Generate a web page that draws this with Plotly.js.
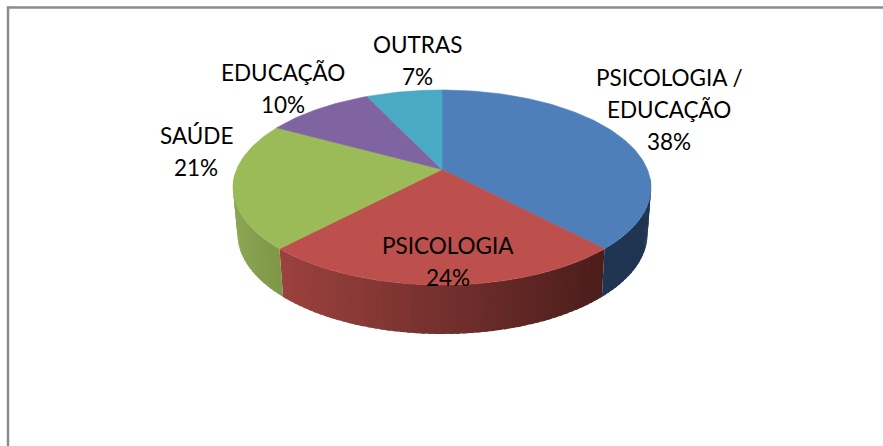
<!DOCTYPE html>
<html><head><meta charset="utf-8">
<script src="https://cdn.plot.ly/plotly-3.0.1.min.js"></script>
<style>html,body{margin:0;padding:0;background:#fff}#c{width:883px;height:446px}</style>
</head><body><div id="c"></div>
<script>
const categories = ["PSICOLOGIA / EDUCAÇÃO","PSICOLOGIA","SAÚDE","EDUCAÇÃO","OUTRAS"];
const values = [38,24,21,10,7];
const topColors = ["#4f7fbb","#bd4f4c","#9bbb59","#8064a2","#4aa9c5"];
const labelLines = [["PSICOLOGIA /","EDUCAÇÃO","38%"],["PSICOLOGIA","24%"],["SAÚDE","21%"],["EDUCAÇÃO","10%"],["OUTRAS","7%"]];
const labelX = [669,448,196,283,417];
const labelY = [77,245,135,72,44];
const lineStep = 32;
const wallStops = [[[0,"#1f3552"],[1,"#1f3552"]],[[0,"#9c413e"],[0.5,"#74302e"],[1,"#4b1d1b"]],[[0,"#8aa552"],[1,"#7d9748"]],[[0,"#5f4b7a"],[1,"#5f4b7a"]],[[0,"#387f93"],[1,"#387f93"]]];

// projected disc: top ellipse, bottom rim ellipse, perspective-shifted centre
const T={cx:442,cy:187.5,rx:209,ry:97.5}, B={cx:442.5,cy:234,rx:205,ry:100}, d=-0.185;
const total=values.reduce((a,b)=>a+b,0);
function rim(E,f){ // f = fraction of the way round, clockwise from 12 o'clock
  const a=2*Math.PI*f,u=Math.sin(a),v=-Math.cos(a),k=1+d*v;
  return [E.cx+E.rx*u*Math.sqrt(1-d*d)/k, E.cy+E.ry*(v+d)/k];
}
const apex=[T.cx,T.cy+T.ry*d];
function hex(c){return [1,3,5].map(i=>parseInt(c.substr(i,2),16));}
function mix(stops,t){
  let i=0; while(i<stops.length-2&&t>stops[i+1][0]) i++;
  const w=(t-stops[i][0])/(stops[i+1][0]-stops[i][0]),A=hex(stops[i][1]),C=hex(stops[i+1][1]);
  return "rgb("+A.map((x,j)=>Math.round(x+(C[j]-x)*w)).join(",")+")";
}
const traces=[];
function poly(xs,ys,color,lw){
  traces.push({type:"scatter",mode:"lines",x:xs,y:ys,fill:"toself",fillcolor:color,line:{color:color,width:lw},hoverinfo:"skip",showlegend:false});
}
let cum=0;
const slices=values.map(v=>{const s=[cum/total,(cum+v)/total];cum+=v;return s;});
const wallFrom=0.262, wallTo=0.745;
// wall strips overlap one another so no seams show between them
slices.forEach((s,i)=>{
  const a=Math.max(s[0],wallFrom),b=Math.min(s[1],wallTo);
  if(b<=a) return;
  const n=Math.max(2,Math.ceil((b-a)*220));
  const xa=rim(T,a)[0],xb=rim(T,b)[0],lo=Math.min(xa,xb),hi=Math.max(xa,xb);
  for(let k=0;k<n;k++){
    const f0=a+(b-a)*k/n,f1=Math.min(b,a+(b-a)*(k+1.6)/n);
    const p=[rim(T,f0),rim(T,f1),rim(B,f1),rim(B,f0)];
    const t=(rim(T,a+(b-a)*(k+.5)/n)[0]-lo)/(hi-lo);
    poly(p.map(q=>q[0]).concat(p[0][0]),p.map(q=>q[1]).concat(p[0][1]),mix(wallStops[i],t),0);
  }
});
slices.forEach((s,i)=>{
  const n=Math.ceil((s[1]-s[0])*300),xs=[apex[0]],ys=[apex[1]];
  for(let k=0;k<=n;k++){const p=rim(T,s[0]+(s[1]-s[0])*k/n);xs.push(p[0]);ys.push(p[1]);}
  xs.push(apex[0]);ys.push(apex[1]);
  poly(xs,ys,topColors[i],0.6);
});
const annotations=[];
labelLines.forEach((lines,i)=>lines.forEach((t,j)=>annotations.push({
  x:labelX[i],y:labelY[i]+j*lineStep,xref:"x",yref:"y",text:t,showarrow:false,xanchor:"center",yanchor:"middle",
  font:{family:"Lato, 'Open Sans', sans-serif",size:22.5,color:"#000"}})));
const layout={width:883,height:446,margin:{l:0,r:0,t:0,b:0},paper_bgcolor:"#fff",plot_bgcolor:"#fff",showlegend:false,
  xaxis:{range:[0,883],visible:false,fixedrange:true},
  yaxis:{range:[446,0],visible:false,fixedrange:true},
  annotations,
  shapes:[
    {type:"line",xref:"x",yref:"y",x0:8,x1:8,y0:6.5,y1:446,line:{color:"#8c8c8c",width:2.5}},
    {type:"line",xref:"x",yref:"y",x0:7,x1:883,y0:7.5,y1:7.5,line:{color:"#8c8c8c",width:2.5}}
  ]};
Plotly.newPlot("c",traces,layout,{displayModeBar:false,staticPlot:true});
</script></body></html>
